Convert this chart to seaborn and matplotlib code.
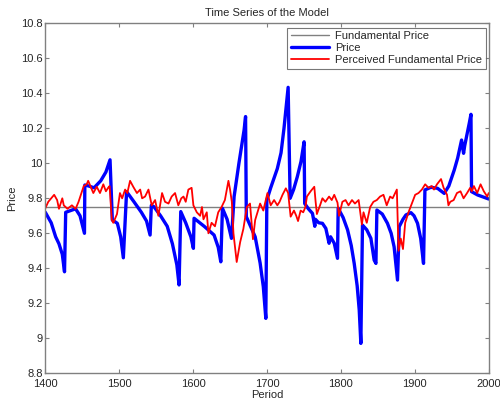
import matplotlib
matplotlib.use("Agg")
import matplotlib.pyplot as plt
import seaborn as sns

# ---- data ----
fund_period = [1400, 2000]
fund_value = [9.75, 9.75]

price_period = [1400, 1408, 1414, 1418.5, 1423, 1426, 1427.6, 1441, 1447, 1453, 1453.5, 1459, 1466, 1475, 1482, 1487.6,
                1490.7, 1497.5, 1502, 1505.6, 1510, 1520, 1530, 1537, 1541.8, 1543.5, 1547, 1556, 1565, 1572,
                1578, 1581, 1583.3, 1590, 1597, 1600.4, 1601.3, 1615, 1628.4, 1634, 1637.5, 1639.7, 1646,
                1651.9, 1655.5, 1662, 1669, 1671, 1672, 1684, 1690.7, 1695, 1698.4, 1699.8, 1705, 1714, 1719,
                1723, 1728.6, 1731.3, 1736, 1741, 1746, 1750.2, 1751, 1756, 1761.5, 1764.7, 1765.5, 1770, 1775,
                1779.6, 1784, 1786, 1791, 1795.4, 1796.3, 1803, 1809, 1814, 1818, 1822, 1824.8, 1827, 1829.2,
                1835, 1840.6, 1845, 1847.4, 1848.7, 1856, 1863, 1868, 1872, 1876.6, 1878.9, 1884, 1888, 1894.8,
                1899, 1903.7, 1908, 1911.8, 1913.7, 1921.8, 1930.8, 1939.8, 1946, 1953.4, 1958, 1963.3, 1966,
                1967.5, 1973.7, 1976, 1976.8, 1985, 2000]
price_value = [9.72, 9.66, 9.58, 9.54, 9.48, 9.38, 9.72, 9.74, 9.70, 9.60, 9.876, 9.87, 9.86, 9.90, 9.95, 10.02,
               9.676, 9.657, 9.58, 9.46, 9.838, 9.78, 9.72, 9.67, 9.59, 9.76, 9.752, 9.70, 9.64, 9.54,
               9.42, 9.305, 9.724, 9.66, 9.58, 9.514, 9.686, 9.64, 9.59, 9.52, 9.437, 9.743, 9.68,
               9.571, 9.81, 10.0, 10.19, 10.267, 9.695, 9.58, 9.43, 9.295, 9.114, 9.79, 9.86, 9.97, 10.06,
               10.2, 10.434, 9.80, 9.85, 9.923, 10.01, 10.123, 9.77, 9.74, 9.714, 9.64, 9.68, 9.66, 9.657,
               9.628, 9.543, 9.58, 9.543, 9.457, 9.743, 9.69, 9.62, 9.53, 9.428, 9.30, 9.162, 8.971, 9.647,
               9.62, 9.571, 9.447, 9.428, 9.733, 9.71, 9.657, 9.60, 9.523, 9.333, 9.638, 9.68, 9.705, 9.718,
               9.70, 9.657, 9.57, 9.428, 9.848, 9.863, 9.857, 9.828, 9.87, 9.962, 10.03, 10.133, 10.057,
               10.1, 10.229, 10.28, 9.838, 9.819, 9.796]

perceived_period = [1400, 1404, 1408, 1412, 1416, 1418.5, 1423, 1425, 1430, 1436, 1441, 1445, 1452, 1456, 1458,
                    1462, 1465, 1469.6, 1474, 1478.5, 1482, 1485, 1487, 1490, 1492, 1497, 1501, 1504, 1508,
                    1511, 1514.7, 1519, 1524, 1528.4, 1531, 1535, 1539.6, 1544, 1548.6, 1553, 1558, 1562,
                    1566.7, 1571, 1575.6, 1580, 1584, 1587, 1590, 1593.6, 1598, 1600.4, 1605, 1609.5, 1612,
                    1614, 1618.5, 1620.7, 1625, 1629.6, 1634, 1638.5, 1643, 1647.8, 1650, 1652.4, 1654.6, 1659,
                    1663.7, 1668, 1672.7, 1677, 1681, 1684, 1688.5, 1690.7, 1695, 1700.6, 1705, 1709.6, 1714,
                    1717, 1721, 1725.5, 1728.6, 1732, 1736.5, 1739.6, 1742, 1745.5, 1749, 1752, 1754, 1759,
                    1764, 1765.8, 1767.5, 1771.8, 1775, 1779, 1784, 1787.6, 1791, 1795.4, 1797.5, 1802, 1806.3,
                    1810.3, 1815, 1819, 1824, 1828.4, 1830.6, 1835, 1839.6, 1844, 1848.6, 1853, 1857.6, 1862,
                    1866.6, 1870, 1873.5, 1875.7, 1878, 1881, 1884, 1887, 1891.5, 1896, 1900.5, 1905, 1909.6,
                    1914, 1918.6, 1923, 1926, 1930, 1935.5, 1939, 1943.6, 1945.5, 1948, 1952.6, 1957, 1961.8,
                    1966, 1970.7, 1975, 1977, 1980, 1984.4, 1989, 1993.4, 1998, 2000]
perceived_value = [9.743, 9.78, 9.80, 9.82, 9.79, 9.74, 9.80, 9.76, 9.74, 9.76, 9.74, 9.78, 9.87, 9.88, 9.90,
                   9.86, 9.83, 9.866, 9.83, 9.88, 9.84, 9.86, 9.87, 9.676, 9.66, 9.71, 9.83, 9.80, 9.85,
                   9.83, 9.90, 9.866, 9.83, 9.85, 9.80, 9.81, 9.85, 9.76, 9.79, 9.70, 9.83, 9.78,
                   9.77, 9.81, 9.83, 9.76, 9.80, 9.81, 9.78, 9.85, 9.86, 9.76, 9.72, 9.70, 9.75,
                   9.68, 9.72, 9.60, 9.66, 9.64, 9.72, 9.75, 9.79, 9.90, 9.85, 9.78, 9.60, 9.436,
                   9.55, 9.625, 9.75, 9.77, 9.566, 9.676, 9.74, 9.77, 9.73, 9.83, 9.76, 9.79, 9.76,
                   9.78, 9.82, 9.857, 9.83, 9.695, 9.73, 9.70, 9.67, 9.73, 9.72, 9.75, 9.81, 9.84,
                   9.866, 9.78, 9.71, 9.76, 9.80, 9.78, 9.81, 9.79, 9.82, 9.775, 9.70, 9.78, 9.79,
                   9.76, 9.79, 9.77, 9.79, 9.65, 9.72, 9.66, 9.75, 9.78, 9.79, 9.81, 9.82, 9.76,
                   9.81, 9.80, 9.83, 9.85, 9.50, 9.57, 9.51, 9.66, 9.72, 9.77, 9.82, 9.83, 9.85,
                   9.88, 9.86, 9.87, 9.85, 9.88, 9.91, 9.86, 9.82, 9.76, 9.78, 9.79, 9.83, 9.84,
                   9.80, 9.83, 9.86, 9.84, 9.87, 9.83, 9.88, 9.84, 9.81, 9.83]

x_ticks = [1400, 1500, 1600, 1700, 1800, 1900, 2000]
y_ticks = [8.8, 9.0, 9.2, 9.4, 9.6, 9.8, 10.0, 10.2, 10.4, 10.6, 10.8]
y_labels = ["8.8", "9", "9.2", "9.4", "9.6", "9.8", "10", "10.2", "10.4", "10.6", "10.8"]

# ---- plot ----
sns.set_style("white")
plt.rcParams['font.family'] = ['Liberation Sans', 'DejaVu Sans']

fig = plt.figure(figsize=(5.0, 3.99), dpi=100)
ax = fig.add_axes([0.0906, 0.0644, 0.8868, 0.8772])

sns.lineplot(x=fund_period, y=fund_value, ax=ax, color="#808080", linewidth=1.0,
             label="Fundamental Price", estimator=None, sort=False)
sns.lineplot(x=price_period, y=price_value, ax=ax, color="#0000ff", linewidth=2.4,
             label="Price", estimator=None, sort=False)
sns.lineplot(x=perceived_period, y=perceived_value, ax=ax, color="#ff0000", linewidth=1.3,
             label="Perceived Fundamental Price", estimator=None, sort=False)

ax.set_xlim(1400, 2000)
ax.set_ylim(8.8, 10.8)
ax.set_xticks(x_ticks)
ax.set_xticklabels([str(t) for t in x_ticks])
ax.set_yticks(y_ticks)
ax.set_yticklabels(y_labels)
ax.tick_params(direction="in", length=3, width=0.8, color="#808080", labelsize=8,
               top=True, right=True, bottom=True, left=True)
ax.tick_params(axis="x", pad=4)
ax.tick_params(axis="y", pad=2)
for s in ax.spines.values():
    s.set_visible(True)
    s.set_color("#808080")
    s.set_linewidth(1.0)

ax.set_xlabel("Period", fontsize=8, labelpad=1)
ax.set_ylabel("Price", fontsize=8, labelpad=3)
ax.set_title("Time Series of the Model", fontsize=8, pad=5)

leg = ax.legend(loc="upper right", bbox_to_anchor=(0.993, 0.988), fontsize=8, frameon=True,
                fancybox=False, handlelength=3.4, borderpad=0.3, labelspacing=0.2,
                handletextpad=0.6, borderaxespad=0.0)
leg.get_frame().set_edgecolor("#555555")
leg.get_frame().set_linewidth(0.8)

fig.savefig("out.png", dpi=100)
